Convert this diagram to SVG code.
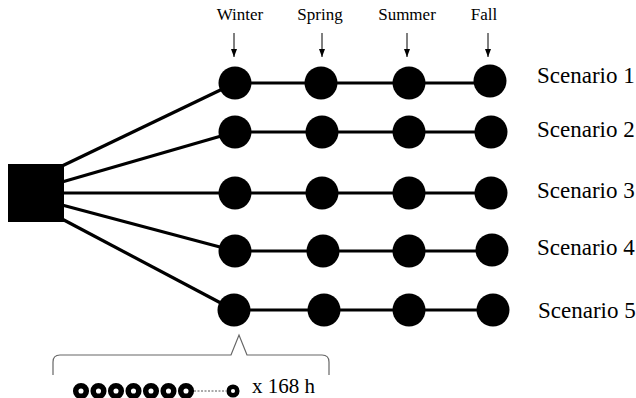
<svg xmlns="http://www.w3.org/2000/svg" width="636" height="398" viewBox="0 0 636 398">
<style>
text{font-family:'Liberation Serif','DejaVu Serif',serif;fill:#000}
.season{font-size:17px;text-anchor:middle}
.scen{font-size:23px}
.lbl{font-size:21px}
.edge{stroke:#000;stroke-width:3.2;fill:none}
.arr{stroke:#000;stroke-width:1;fill:none}
.node{fill:#000}
.ring{fill:none;stroke:#000;stroke-width:5.5}
</style>
<defs>
<marker id="ah" viewBox="0 0 8 6" refX="8" refY="3" markerWidth="8" markerHeight="6" markerUnits="userSpaceOnUse" orient="auto">
<path d="M0,0 L8,3 L0,6 Z" fill="#000"/>
</marker>
</defs>
<rect width="636" height="398" fill="#fff"/>
<g id="seasons">
<text class="season" x="240" y="20" font-family="Liberation Serif, serif">Winter</text>
<text class="season" x="320" y="20" font-family="Liberation Serif, serif">Spring</text>
<text class="season" x="407" y="20" font-family="Liberation Serif, serif">Summer</text>
<text class="season" x="484" y="20" font-family="Liberation Serif, serif">Fall</text>
<line class="arr" x1="234" y1="33" x2="234" y2="57" marker-end="url(#ah)"/>
<line class="arr" x1="322" y1="33" x2="322" y2="57" marker-end="url(#ah)"/>
<line class="arr" x1="407" y1="33" x2="407" y2="57" marker-end="url(#ah)"/>
<line class="arr" x1="488" y1="33" x2="488" y2="57" marker-end="url(#ah)"/>
</g>
<g id="connectors">
<line class="edge" x1="62" y1="166" x2="235" y2="83"/>
<line class="edge" x1="62" y1="182" x2="235" y2="132"/>
<line class="edge" x1="62" y1="193" x2="235" y2="193"/>
<line class="edge" x1="62" y1="205" x2="235" y2="251"/>
<line class="edge" x1="62" y1="219" x2="234" y2="310"/>
<line class="edge" x1="235" y1="83" x2="490" y2="83"/>
<line class="edge" x1="235" y1="132" x2="491" y2="132"/>
<line class="edge" x1="235" y1="193" x2="491" y2="193"/>
<line class="edge" x1="235" y1="251" x2="492" y2="251"/>
<line class="edge" x1="234" y1="310" x2="493" y2="310"/>
</g>
<g id="source"><rect class="node" x="8" y="164" width="56" height="58"/></g>
<g id="s1">
<circle class="node" cx="235" cy="83" r="16.5"/><circle class="node" cx="321" cy="83" r="16.5"/><circle class="node" cx="409" cy="83" r="16.5"/><circle class="node" cx="490" cy="81" r="16.5"/>
<text class="scen" x="537" y="83" font-family="Liberation Serif, serif">Scenario 1</text>
</g>
<g id="s2">
<circle class="node" cx="235" cy="132" r="16.5"/><circle class="node" cx="322" cy="132" r="16.5"/><circle class="node" cx="409" cy="132" r="16.5"/><circle class="node" cx="491" cy="132" r="16.5"/>
<text class="scen" x="537" y="137" font-family="Liberation Serif, serif">Scenario 2</text>
</g>
<g id="s3">
<circle class="node" cx="235" cy="193" r="16.5"/><circle class="node" cx="322" cy="193" r="16.5"/><circle class="node" cx="409" cy="193" r="16.5"/><circle class="node" cx="491" cy="193" r="16.5"/>
<text class="scen" x="537" y="198" font-family="Liberation Serif, serif">Scenario 3</text>
</g>
<g id="s4">
<circle class="node" cx="235" cy="251" r="16.5"/><circle class="node" cx="323" cy="251" r="16.5"/><circle class="node" cx="409" cy="251" r="16.5"/><circle class="node" cx="492" cy="250" r="16.5"/>
<text class="scen" x="537" y="255" font-family="Liberation Serif, serif">Scenario 4</text>
</g>
<g id="s5">
<circle class="node" cx="234" cy="310" r="16.5"/><circle class="node" cx="324" cy="310" r="16.5"/><circle class="node" cx="409" cy="310" r="16.5"/><circle class="node" cx="493" cy="310" r="16.5"/>
<text class="scen" x="538" y="318" font-family="Liberation Serif, serif">Scenario 5</text>
</g>
<g id="detail">
<path d="M53,375 L53,362 Q53,355 60,355 L231,355 L239,335 L247,355 L322,355 Q329,355 329,362 L329,375" fill="none" stroke="#666" stroke-width="1.2"/>
<circle class="ring" cx="81" cy="391" r="5.3"/>
<circle class="ring" cx="98.5" cy="391" r="5.3"/>
<circle class="ring" cx="116" cy="391" r="5.3"/>
<circle class="ring" cx="133.5" cy="391" r="5.3"/>
<circle class="ring" cx="151" cy="391" r="5.3"/>
<circle class="ring" cx="168.5" cy="391" r="5.3"/>
<circle class="ring" cx="186" cy="391" r="5.3"/>
<line x1="194" y1="391" x2="226" y2="391" stroke="#555" stroke-width="1" stroke-dasharray="2,1.5"/>
<circle cx="233" cy="391" r="4.3" fill="none" stroke="#000" stroke-width="4.5"/>
<text class="lbl" x="252" y="393" font-family="Liberation Serif, serif">x 168 h</text>
</g>
</svg>
